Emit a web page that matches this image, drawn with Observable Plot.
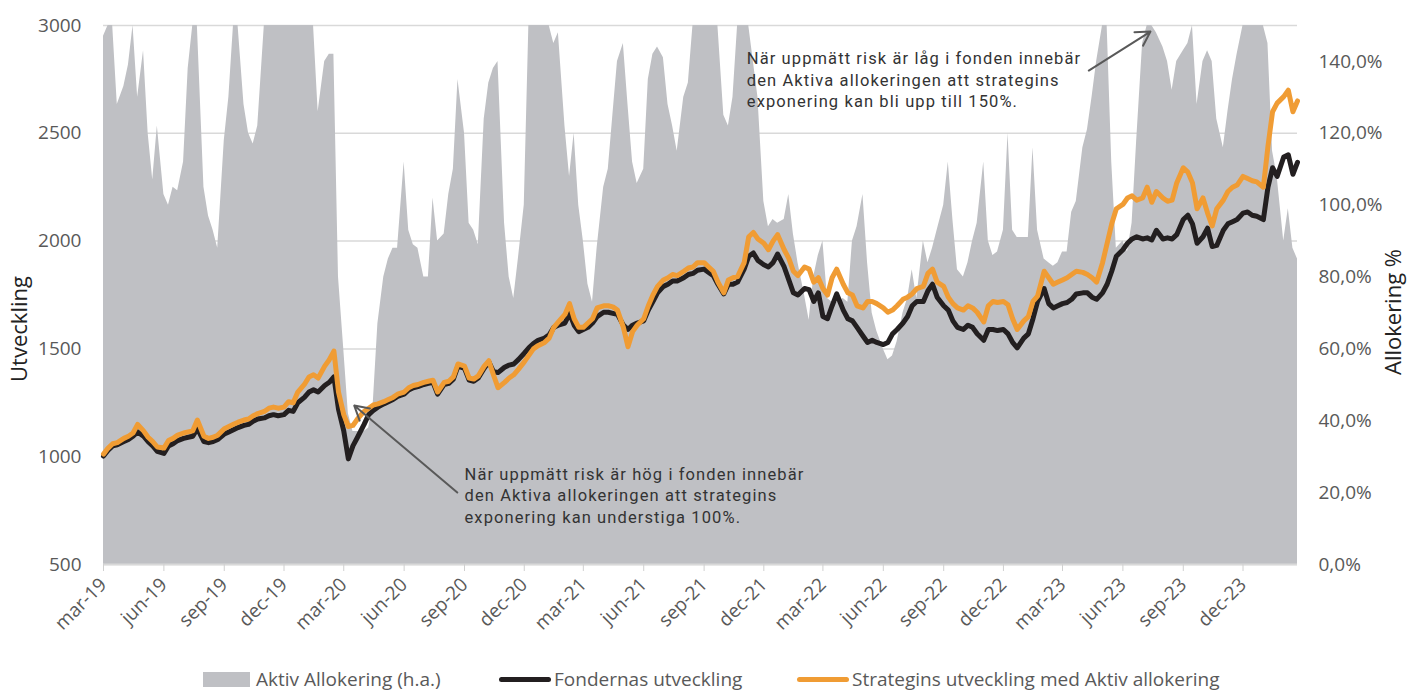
<!DOCTYPE html>
<html><head><meta charset="utf-8">
<script src="https://cdn.jsdelivr.net/npm/d3@7"></script>
<script src="https://cdn.jsdelivr.net/npm/@observablehq/plot@0.6"></script>
<style>
body{margin:0;background:#fff;}
#chart{position:relative;width:1410px;height:691px;overflow:hidden;}
#chart svg{display:block;}
.legend{position:absolute;top:668px;left:0;width:1410px;height:22px;font-family:"Open Sans",sans-serif;font-size:19px;line-height:22px;color:#595959;}
.item{position:absolute;top:0;height:22px;display:flex;align-items:center;white-space:nowrap;}
.sw-rect{width:47px;height:15px;background:#bfc0c4;margin-right:6px;}
.sw-line{width:52px;height:5px;border-radius:3px;margin-right:3px;}
</style></head><body><div id="chart"></div>
<script>
// ---- data ----
const months = ["2019-03","2019-04","2019-05","2019-06","2019-07","2019-08","2019-09","2019-10","2019-11","2019-12",
"2020-01","2020-02","2020-03","2020-04","2020-05","2020-06","2020-07","2020-08","2020-09","2020-10","2020-11","2020-12",
"2021-01","2021-02","2021-03","2021-04","2021-05","2021-06","2021-07","2021-08","2021-09","2021-10","2021-11","2021-12",
"2022-01","2022-02","2022-03","2022-04","2022-05","2022-06","2022-07","2022-08","2022-09","2022-10","2022-11","2022-12",
"2023-01","2023-02","2023-03","2023-04","2023-05","2023-06","2023-07","2023-08","2023-09","2023-10","2023-11","2023-12",
"2024-01","2024-02"];
const weekDays = ["01","08","15","22"];

// Aktiv Allokering (%), right axis
const allocation = [
[147,150,150,128],[133,139,150,130],[143,120,107,122],[103,100,105,104],[112,138,150,150],[105,97,93,88],
[118,130,150,150],[128,120,117,122],[150,150,150,150],[150,150,150,150],
[150,150,150,126],[140,142,142,80],[60,42,37,37],[37,38,45,67],[80,85,88,88],[112,93,89,88],
[80,80,102,90],[92,103,110,135],[120,95,93,89],[124,134,138,140],[95,80,74,85],[100,150,150,150],
[150,150,145,148],[122,108,120,100],[90,78,73,88],[105,110,125,140],[145,128,112,106],[110,135,142,144],
[141,128,122,115],[130,134,150,150],[150,150,150,150],[125,122,130,150],[150,150,140,130],[101,94,96,95],
[96,103,92,84],[75,68,80,86],[90,74,73,73],[74,73,90,94],[103,84,70,65],[60,57,58,62],
[70,74,82,74],[90,84,88,93],[100,112,96,82],[80,84,90,95],[112,90,86,87],[93,120,93,91],
[91,91,116,93],[85,84,83,84],[87,87,98,101],[116,121,130,140],[150,150,112,88],[90,87,95,118],
[145,150,150,148],[144,140,132,140],[143,145,150,128],[140,143,140,124],[116,126,135,142],[150,150,150,150],
[150,145,115,108],[90,99,88,85]];

// Fondernas utveckling
const fund = [
[1003,1030,1050,1055],[1070,1080,1095,1115],[1095,1070,1050,1025],[1015,1050,1060,1075],[1085,1090,1095,1130],[1070,1065,1070,1080],
[1105,1115,1125,1135],[1145,1150,1165,1175],[1180,1190,1195,1190],[1195,1215,1210,1250],
[1275,1300,1310,1300],[1330,1345,1370,1220],[1120,990,1050,1090],[1150,1195,1215,1230],[1245,1255,1265,1280],[1290,1310,1320,1325],
[1335,1340,1345,1290],[1335,1340,1360,1420],[1410,1355,1350,1365],[1410,1440,1395,1390],[1415,1425,1430,1450],[1480,1505,1525,1540],
[1550,1565,1600,1610],[1620,1665,1610,1580],[1590,1600,1620,1650],[1670,1670,1665,1660],[1610,1590,1610,1620],[1630,1680,1720,1760],
[1790,1800,1815,1815],[1830,1845,1850,1865],[1870,1855,1840,1800],[1755,1800,1800,1810],[1870,1930,1945,1910],[1890,1880,1900,1940],
[1880,1820,1760,1750],[1780,1775,1720,1760],[1650,1640,1700,1755],[1680,1640,1630,1600],[1560,1530,1540,1530],[1520,1530,1570,1590],
[1620,1650,1700,1720],[1720,1770,1800,1740],[1700,1680,1630,1600],[1590,1610,1600,1570],[1540,1590,1590,1585],[1590,1570,1530,1505],
[1550,1570,1640,1720],[1780,1710,1690,1700],[1710,1715,1730,1755],[1760,1760,1740,1730],[1760,1800,1860,1930],[1960,1990,2010,2020],
[2010,2015,2005,2050],[2010,2015,2010,2030],[2100,2120,2080,1990],[2020,2060,1975,1980],[2050,2080,2090,2100],[2130,2135,2120,2115],
[2100,2250,2340,2300],[2390,2400,2310,2365]];

// Strategins utveckling med Aktiv allokering
const strategy = [
[1012,1040,1060,1065],[1085,1095,1110,1150],[1120,1090,1070,1045],[1040,1075,1085,1100],[1110,1115,1120,1170],[1095,1085,1090,1100],
[1130,1140,1150,1160],[1170,1175,1190,1200],[1210,1225,1230,1225],[1230,1255,1250,1300],
[1335,1370,1380,1365],[1420,1450,1490,1300],[1195,1140,1145,1175],[1210,1225,1240,1245],[1255,1265,1275,1290],[1300,1320,1330,1335],
[1345,1350,1355,1300],[1345,1350,1370,1430],[1420,1365,1360,1375],[1420,1445,1380,1320],[1345,1365,1380,1405],[1440,1470,1500,1515],
[1530,1550,1600,1625],[1660,1710,1640,1600],[1600,1620,1640,1690],[1700,1700,1695,1680],[1600,1510,1580,1610],[1640,1700,1750,1790],
[1820,1830,1845,1840],[1860,1875,1880,1900],[1900,1880,1860,1810],[1760,1820,1830,1835],[1900,2020,2040,2010],[1990,1960,2000,2030],
[1960,1920,1860,1840],[1880,1870,1810,1830],[1780,1750,1830,1870],[1800,1760,1750,1700],[1690,1720,1720,1710],[1690,1670,1680,1700],
[1730,1740,1755,1780],[1790,1850,1870,1810],[1790,1740,1710,1690],[1680,1700,1690,1670],[1625,1700,1720,1715],[1720,1705,1640,1590],
[1630,1650,1720,1745],[1860,1830,1800,1810],[1820,1830,1845,1860],[1855,1845,1830,1810],[1900,1990,2080,2150],[2170,2200,2210,2190],
[2200,2250,2180,2230],[2200,2185,2190,2270],[2340,2320,2270,2150],[2200,2130,2070,2150],[2190,2230,2250,2260],[2300,2290,2280,2275],
[2250,2440,2600,2640],[2670,2700,2600,2650]];

// axes
const xTickDates = ["2019-03-01","2019-06-01","2019-09-01","2019-12-01","2020-03-01","2020-06-01","2020-09-01","2020-12-01",
"2021-03-01","2021-06-01","2021-09-01","2021-12-01","2022-03-01","2022-06-01","2022-09-01","2022-12-01",
"2023-03-01","2023-06-01","2023-09-01","2023-12-01"];
const xTickLabels = ["mar-19","jun-19","sep-19","dec-19","mar-20","jun-20","sep-20","dec-20","mar-21","jun-21","sep-21","dec-21",
"mar-22","jun-22","sep-22","dec-22","mar-23","jun-23","sep-23","dec-23"];
const leftTicks = [500,1000,1500,2000,2500,3000];
const leftTickLabels = ["500","1000","1500","2000","2500","3000"];
const rightTicks = [0,20,40,60,80,100,120,140];
const rightTickLabels = ["0,0%","20,0%","40,0%","60,0%","80,0%","100,0%","120,0%","140,0%"];
const rightMax = 150;
const xStart = "2019-03-01", xEnd = "2024-02-22";

const notes = [
  {date:"2021-11-05", value:2754, text:"När uppmätt risk är låg i fonden innebär\nden Aktiva allokeringen att strategins\nexponering kan bli upp till 150%."},
  {date:"2020-09-01", value:825, text:"När uppmätt risk är hög i fonden innebär\nden Aktiva allokeringen att strategins\nexponering kan understiga 100%."}
];
const arrows = [
  {from:"2023-04-10", fromValue:2791, to:"2023-07-13", toValue:2972},
  {from:"2020-08-21", fromValue:834, to:"2020-03-17", toValue:1237}
];

// ---- build ----
const parse = s => new Date(s + "T00:00:00Z");
const yMin = leftTicks[0], yMax = leftTicks[leftTicks.length-1];
const conv = p => yMin + p / rightMax * (yMax - yMin);

const rows = months.flatMap((m, i) => weekDays.map((d, j) => ({
  date: parse(`${m}-${d}`), alloc: allocation[i][j], fund: fund[i][j], strategy: strategy[i][j]
})));
const xLabelMap = new Map(xTickDates.map((d, i) => [+parse(d), xTickLabels[i]]));
const leftLabelMap = new Map(leftTicks.map((t, i) => [t, leftTickLabels[i]]));
const rightLabelMap = new Map(rightTicks.map((t, i) => [conv(t), rightTickLabels[i]]));
const noteRows = notes.map(n => ({...n, date: parse(n.date)}));
const arrowRows = arrows.map(a => ({...a, from: parse(a.from), to: parse(a.to)}));

const chart = Plot.plot({
  width: 1410, height: 655,
  marginLeft: 103, marginRight: 113, marginTop: 25, marginBottom: 91,
  style: {fontFamily: "'Open Sans', sans-serif", fontSize: "19px", color: "#595959", background: "#fff"},
  x: {type: "utc", domain: [parse(xStart), parse(xEnd)]},
  y: {domain: [yMin, yMax]},
  marks: [
    Plot.ruleY(leftTicks, {stroke: "#d9d9d9", strokeWidth: 1.5}),
    Plot.areaY(rows, {x: "date", y1: yMin, y2: d => conv(d.alloc), fill: "#bfc0c4"}),
    Plot.ruleY([yMin], {stroke: "#d9d9d9", strokeWidth: 2}),
    Plot.lineY(rows, {x: "date", y: "fund", stroke: "#231f20", strokeWidth: 5, strokeLinejoin: "round"}),
    Plot.lineY(rows, {x: "date", y: "strategy", stroke: "#f09c34", strokeWidth: 5, strokeLinejoin: "round"}),
    Plot.axisX({ticks: xTickDates.map(parse), tickFormat: d => xLabelMap.get(+d), tickRotate: -45, tickSize: 7, tickPadding: 10, stroke: "#d0d0d0", label: null}),
    Plot.axisY({ticks: leftTicks, tickFormat: d => leftLabelMap.get(d), tickSize: 0, tickPadding: 22, label: null}),
    Plot.axisY({anchor: "right", ticks: rightTicks.map(conv), tickFormat: d => rightLabelMap.get(d), tickSize: 0, tickPadding: 21, label: null}),
    Plot.text(["Utveckling"], {frameAnchor: "left", dx: -84, dy: 34, rotate: -90, fontSize: 22, fill: "#222", textAnchor: "middle"}),
    Plot.text(["Allokering %"], {frameAnchor: "right", dx: 96, dy: 17, rotate: -90, fontSize: 22, fill: "#222", textAnchor: "middle"}),
    Plot.arrow(arrowRows, {x1: "from", y1: "fromValue", x2: "to", y2: "toValue", stroke: "#595959", strokeWidth: 2, headLength: 12}),
    Plot.text(noteRows, {x: "date", y: "value", text: "text", textAnchor: "start", lineAnchor: "middle", lineHeight: 1.33, fontFamily: "Roboto", fontSize: 16.5, fill: "#333"})
  ]
});

// annotation letter spacing (DIN-like wide tracking of the original)
chart.querySelectorAll("text").forEach(t => {
  if (t.textContent.includes("uppmätt")) t.setAttribute("letter-spacing", "1.1");
});

const root = document.getElementById("chart");
root.appendChild(chart);
const legend = document.createElement("div");
legend.className = "legend";
legend.innerHTML = `
<div class="item" style="left:203px"><span class="sw-rect"></span>Aktiv Allokering (h.a.)</div>
<div class="item" style="left:499px"><span class="sw-line" style="background:#231f20"></span>Fondernas utveckling</div>
<div class="item" style="left:797px"><span class="sw-line" style="background:#f09c34"></span>Strategins utveckling med Aktiv allokering</div>`;
root.appendChild(legend);
</script></body></html>
